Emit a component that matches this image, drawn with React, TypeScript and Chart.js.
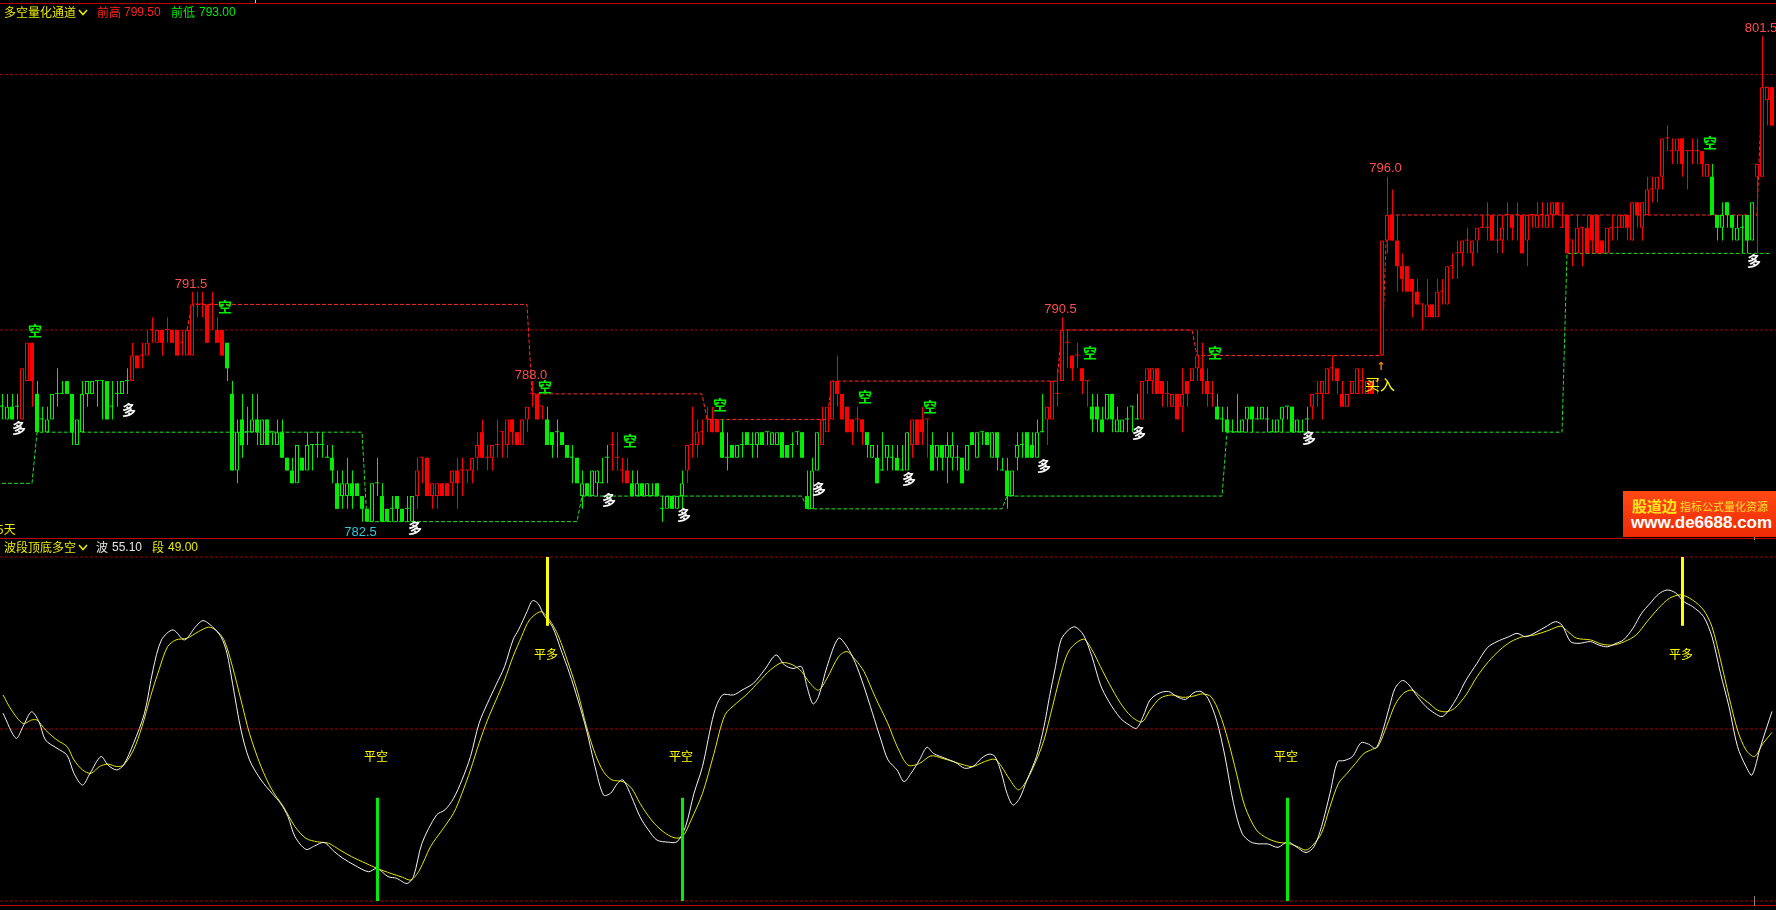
import React, { useEffect, useRef } from "react";
import { Chart, registerables } from "chart.js";
Chart.register(...registerables);

// ---------------- DATA ----------------
const opens = [
  787, 786.5, 787, 787, 786.5, 788, 789.5, 787.5, 786.5, 786,
  786.5, 787.5, 787.5, 788, 787.5, 785.5, 786, 787.5, 787.5, 788,
  788, 788, 787, 787.5, 787.5, 788, 788, 789, 789, 789,
  790, 789.5, 790, 790, 790, 790, 789.5, 789, 789, 791,
  791, 791, 791, 790, 790, 789.5, 787.5, 784.5, 786.5, 786,
  786, 786.5, 785.5, 786.5, 786, 785.5, 786, 785, 784.5, 784,
  785, 784.5, 785.5, 785.5, 785.5, 785, 785, 784, 783.5, 783.5,
  784, 784, 783.5, 783, 782.5, 784, 783.5, 783, 783, 783.5,
  783, 783, 782.5, 783.5, 785, 785, 783.5, 783.5, 784, 784,
  784, 784.5, 784.5, 784.5, 784.5, 785, 786, 785, 785, 785.5,
  786, 785.5, 786.5, 786, 785.5, 786.5, 787.5, 787.5, 787, 786.5,
  786, 786, 786, 785.5, 785, 785, 783.5, 784, 783.5, 784,
  784, 785, 785.5, 785, 784.5, 784.5, 784, 783.5, 784, 783.5,
  783.5, 784, 783, 783, 783.5, 783, 783.5, 784.5, 785.5, 785.5,
  786, 786.5, 786.5, 786.5, 786, 785, 785.5, 785, 785.5, 786,
  785.5, 785.5, 786, 786, 785.5, 785.5, 786, 785.5, 785.5, 786,
  786, 783.5, 783, 784.5, 785.5, 786, 786.5, 788, 787.5, 787,
  786.5, 786.5, 786.5, 786, 785, 785, 784.5, 785, 785, 785,
  784.5, 784.5, 785.5, 786.5, 786.5, 786.5, 785.5, 785, 785.5, 785,
  785, 785, 785, 784.5, 786, 785, 786, 786, 785, 786,
  784.5, 784.5, 783.5, 785, 785.5, 786, 785.5, 785, 786, 786.5,
  786.5, 787.5, 788, 789.5, 789, 789, 788.5, 788, 787, 787,
  786.5, 786.5, 787.5, 786, 786, 786.5, 787, 786.5, 786.5, 788,
  788, 788.5, 788, 787.5, 787, 787.5, 787, 788, 788, 788.5,
  788.5, 788, 787.5, 787, 786.5, 786.5, 786, 786, 786, 786.5,
  787, 786.5, 786.5, 786.5, 786, 786, 786.5, 787, 787, 786,
  786, 786.5, 787, 787.5, 787.5, 787.5, 788.5, 788.5, 787.5, 787,
  787.5, 787.5, 788, 787.5, 788, 788, 789, 793.5, 794.5, 793.5,
  792.5, 792.5, 792, 791.5, 791, 790.5, 791, 790.5, 791.5, 791,
  792.5, 793, 793, 793.5, 793, 793.5, 794, 794, 794.5, 793.5,
  793.5, 794.5, 794.5, 794.5, 794.5, 793.5, 794.5, 794, 794.5, 794,
  794.5, 795, 794, 794.5, 793.5, 793, 794, 794, 794.5, 794.5,
  793.5, 793, 794, 794, 794, 794.5, 793.5, 795, 794, 794.5,
  795.5, 795.5, 796, 797.5, 797, 797, 797.5, 797, 797, 797,
  797, 796, 796, 794.5, 794, 795, 794.5, 793.5, 794, 794.5,
  793.5, 796, 796, 799, 799.5,
];
const highs = [
  787.5, 787.5, 787.5, 787.5, 788.5, 789.5, 789.5, 788, 787, 787,
  787.5, 788.5, 788, 788, 787.5, 786.5, 788, 788, 788, 788,
  788, 788, 788, 788, 788, 788.5, 789.5, 789, 789.5, 790,
  790.5, 790, 790, 790.5, 790, 790, 790, 790, 791.5, 791.5,
  791.5, 791, 791.5, 790.5, 790, 789.5, 788, 786.5, 787.5, 787,
  787.5, 787.5, 786.5, 786.5, 786, 786.5, 786.5, 785, 785, 785.5,
  785, 786, 785.5, 786, 786, 785.5, 785.5, 784.5, 784.5, 785,
  784.5, 784, 783.5, 783, 784, 785, 784, 783, 783.5, 783.5,
  783, 783.5, 783.5, 785, 785, 785, 784, 784, 784, 784,
  784.5, 785, 785, 784.5, 785, 786, 786.5, 785.5, 785.5, 786.5,
  786, 786.5, 786.5, 786, 786.5, 787, 788, 787.5, 787, 787,
  786, 786.5, 786, 785.5, 785.5, 785, 784.5, 784, 784.5, 784.5,
  785, 785.5, 786, 786, 785, 785, 784.5, 784.5, 784, 784,
  784, 784, 783.5, 783.5, 783.5, 783.5, 784.5, 785.5, 787, 786.5,
  786.5, 787, 787, 786.5, 786.5, 786, 785.5, 785.5, 786, 786,
  786, 786, 786, 786, 786, 786, 786, 785.5, 786, 786,
  786, 784.5, 785, 786, 787, 787, 788, 789, 787.5, 787,
  786.5, 787, 786.5, 786, 785.5, 785.5, 786, 785.5, 785.5, 785.5,
  785.5, 786, 786.5, 786.5, 787, 786.5, 786, 785.5, 785.5, 786,
  786, 785.5, 785, 785.5, 786, 786, 786, 786, 786, 786,
  785, 785, 784.5, 786, 786, 786, 786, 786.5, 787.5, 787,
  788, 788.5, 790.5, 790, 789, 789.5, 788.5, 788, 787.5, 787.5,
  787, 787.5, 787.5, 787, 786.5, 787, 787, 787.5, 788, 788.5,
  788.5, 788.5, 788, 788, 787.5, 787.5, 788.5, 788, 788.5, 790,
  789.5, 788.5, 788, 787.5, 787, 787, 786.5, 787.5, 786.5, 787,
  787, 787, 787, 787, 786.5, 786.5, 787, 787, 787, 786.5,
  786.5, 787, 787.5, 788, 788, 788.5, 789, 788.5, 788, 787.5,
  788, 788.5, 788.5, 788, 788, 788, 793.5, 796, 795.5, 794.5,
  793, 792.5, 792, 792, 791, 792, 791, 792, 792, 792.5,
  793, 793.5, 793.5, 794, 793.5, 794, 794.5, 795, 794.5, 794.5,
  794.5, 795, 794.5, 795, 794.5, 794.5, 794.5, 795, 795, 795,
  795, 795, 795, 794.5, 793.5, 794.5, 794, 794.5, 794.5, 794.5,
  793.5, 794, 794.5, 794.5, 794.5, 794.5, 795, 795, 795, 796,
  796, 796, 797.5, 798, 797.5, 797.5, 797.5, 797, 797.5, 797.5,
  797, 796.5, 796.5, 794.5, 795, 795, 794.5, 794.5, 794.5, 794.5,
  795, 796.5, 801.5, 799.5, 799.5,
];
const lows = [
  786.5, 786.5, 786.5, 786.5, 786.5, 788, 787, 786, 786, 786,
  786.5, 787, 787.5, 787.5, 785.5, 785.5, 786, 787, 787.5, 787,
  786.5, 786.5, 786.5, 787, 787.5, 787.5, 788, 788.5, 788.5, 789,
  789.5, 789.5, 789, 789.5, 789.5, 789, 789, 789, 789, 790.5,
  790.5, 789.5, 790, 789.5, 789, 788, 784.5, 784, 785, 785.5,
  786, 785.5, 785.5, 785.5, 785.5, 785.5, 785, 784.5, 784, 784,
  784.5, 784.5, 784.5, 785, 785, 785, 784, 783, 783, 783,
  783, 783.5, 782.5, 782.5, 782.5, 783.5, 782.5, 782.5, 782.5, 782.5,
  782.5, 782.5, 782.5, 783, 784, 783.5, 783, 783, 783.5, 783.5,
  783.5, 783, 783.5, 784, 784, 784.5, 785, 784.5, 784.5, 785,
  785, 785, 785.5, 785.5, 785.5, 786, 787, 786.5, 786.5, 785.5,
  785, 785, 785.5, 785, 784, 784, 783, 783.5, 783.5, 783.5,
  784, 784, 784.5, 784.5, 784, 784, 783.5, 783.5, 783.5, 783.5,
  783.5, 783.5, 782.5, 783, 783, 783, 783, 784, 785, 785,
  785.5, 786, 786, 786, 785, 784.5, 785, 785, 785, 785.5,
  785, 785, 785.5, 785.5, 785.5, 785.5, 785, 785, 785, 785.5,
  785, 783, 783, 784.5, 785.5, 786, 786.5, 787, 786.5, 786,
  785.5, 786, 785.5, 785, 785, 784, 784.5, 784.5, 784.5, 784.5,
  784.5, 784.5, 785, 785.5, 785.5, 785, 784.5, 784.5, 784.5, 784,
  784.5, 784.5, 784, 784.5, 785.5, 785, 785.5, 785.5, 785, 784.5,
  784.5, 783, 783.5, 784.5, 785, 785, 785, 785, 786, 785.5,
  786.5, 787, 788, 788.5, 788, 788.5, 787.5, 787, 786, 786,
  786, 786.5, 786, 786, 786, 786, 786, 786.5, 786.5, 787.5,
  787.5, 787.5, 787, 787, 787, 786.5, 786, 787, 788, 788,
  787.5, 787, 787, 786.5, 786, 786, 786, 786, 786, 786,
  786, 786.5, 786.5, 786, 786, 786, 786, 786.5, 786, 786,
  786, 786, 786.5, 787, 786.5, 787.5, 788, 787.5, 787, 787,
  787.5, 787.5, 787.5, 787.5, 787.5, 787.5, 789, 793, 793.5, 791.5,
  791.5, 791.5, 790.5, 791, 790, 790.5, 790.5, 790.5, 791, 791,
  792, 792, 792.5, 793, 792.5, 793, 794, 793.5, 793.5, 793,
  793, 793.5, 793.5, 793.5, 793, 792.5, 794, 794, 794, 794,
  794, 794.5, 794, 793, 792.5, 793, 792.5, 793, 793, 793,
  793, 793, 793.5, 793.5, 794, 793.5, 793.5, 794, 793.5, 794.5,
  795, 795, 795.5, 797, 796.5, 796.5, 796, 795.5, 796.5, 796.5,
  796, 796, 794.5, 793.5, 793.5, 794, 793.5, 793.5, 793, 793,
  793.5, 793, 796, 798, 798,
];
const closes = [
  787, 787, 786.5, 787, 788.5, 789.5, 788, 786, 786.5, 786.5,
  787.5, 787.5, 787.5, 787.5, 786, 786.5, 787.5, 788, 788, 788,
  788, 786.5, 787, 787.5, 788, 788, 789, 788.5, 789, 789.5,
  790, 790, 789.5, 790, 789.5, 789, 789.5, 790, 791, 791,
  791, 789.5, 791, 789.5, 789, 788.5, 784.5, 786, 785.5, 786,
  786.5, 786, 786.5, 785.5, 786, 786, 785, 784.5, 784, 785.5,
  784.5, 785.5, 785.5, 785.5, 785.5, 785, 784.5, 783, 784, 784,
  783.5, 783.5, 783, 782.5, 784, 784, 782.5, 782.5, 783, 783,
  782.5, 783, 783.5, 784.5, 785, 783.5, 784, 784, 783.5, 783.5,
  784.5, 784, 784.5, 784.5, 785, 785.5, 785, 785, 785.5, 785.5,
  786, 786.5, 786, 785.5, 786.5, 787, 787.5, 786.5, 787, 785.5,
  785.5, 786, 785.5, 785, 785, 784, 784, 783.5, 784.5, 784.5,
  784, 785, 785.5, 785, 784.5, 784, 783.5, 784, 783.5, 784,
  783.5, 783.5, 783, 783.5, 783, 783.5, 784, 785.5, 785.5, 786,
  786, 786.5, 786, 786, 785, 785, 785, 785.5, 785.5, 785.5,
  785.5, 786, 785.5, 786, 786, 786, 785, 785, 785.5, 786,
  785, 783, 784.5, 786, 786.5, 787, 788, 787.5, 786.5, 786,
  786, 786.5, 786, 785.5, 785.5, 784, 784.5, 785.5, 785, 784.5,
  784.5, 786, 786.5, 785.5, 786, 786.5, 784.5, 785.5, 785, 785.5,
  785.5, 785, 784, 785.5, 785.5, 786, 786, 785.5, 786, 785,
  784.5, 783.5, 784.5, 785.5, 785.5, 785, 785, 786, 786, 787,
  788, 787.5, 790, 789.5, 788.5, 789, 788, 788, 786.5, 786.5,
  786, 787.5, 786.5, 786.5, 786.5, 786.5, 787, 786.5, 788, 788.5,
  788.5, 787.5, 787.5, 787.5, 787.5, 786.5, 787.5, 787.5, 788.5, 789,
  788, 787.5, 787.5, 786.5, 786.5, 786, 786, 786, 786.5, 787,
  786.5, 786.5, 787, 786.5, 786, 786.5, 787, 787, 786, 786.5,
  786, 786.5, 787.5, 787.5, 788, 788.5, 788.5, 788, 787, 787.5,
  788, 788.5, 788, 788, 787.5, 788, 793.5, 794.5, 793.5, 792.5,
  792, 791.5, 791.5, 791, 791, 791, 790.5, 791.5, 791.5, 792.5,
  792.5, 793, 793.5, 793.5, 793.5, 794, 794, 794, 793.5, 793.5,
  794, 794.5, 794, 794.5, 793, 794.5, 794.5, 794.5, 794.5, 794.5,
  795, 794.5, 794, 793, 793.5, 794, 794, 793, 793.5, 793,
  793, 794, 794, 794, 794.5, 794, 795, 794.5, 795, 795.5,
  795.5, 796, 797.5, 797.5, 797, 797.5, 796.5, 797, 797, 797,
  796.5, 796.5, 794.5, 794, 794.5, 794.5, 794, 794, 794, 793.5,
  795, 796.5, 799.5, 799.5, 798,
];
// bar index ranges drawn in the red (long) regime; others are green
const redRanges = [[4, 6], [26, 44], [83, 108], [122, 125], [137, 143], [164, 172], [182, 185], [209, 217], [228, 242], [262, 341], [351, 354]];
// channel levels: [fromBar, toBar, price]
const upperSteps = [[37, 37, 790], [38, 105, 791], [106, 140, 787.5], [141, 165, 786.5], [166, 211, 788], [212, 238, 790], [239, 276, 789], [277, 351, 794.5], [352, 354, 799.5]];
const lowerSteps = [[0, 6, 784], [7, 72, 786], [73, 115, 782.5], [116, 160, 783.5], [161, 200, 783], [201, 244, 783.5], [245, 312, 786], [313, 354, 793]];
const priceGrid = [790, 800];

// oscillator (bar index, value)
const waveK = [0.2, 2.8, 4.2, 5.9, 7.4, 8.7, 11.0, 13.0, 14.4, 16.1, 17.6, 19.8, 21.2, 22.9, 24.3, 26.3, 28.5, 30.2, 31.9, 34.2, 36.5, 38.7, 40.2, 42.1, 43.8, 45.0, 46.1, 47.8, 49.5, 51.8, 54.0, 55.7, 57.2, 58.6, 60.8, 62.5, 64.4, 66.5, 68.2, 70.4, 73.3, 75.0, 77.2, 78.9, 81.0, 82.3, 84.0, 86.9, 88.6, 90.3, 92.0, 93.7, 95.4, 97.1, 98.8, 100.5, 102.2, 103.3, 105.0, 106.1, 107.2, 108.4, 110.1, 111.8, 113.5, 115.2, 116.9, 118.6, 120.3, 121.7, 123.1, 124.2, 125.9, 127.6, 129.3, 131.0, 133.3, 135.0, 136.7, 138.4, 140.1, 142.4, 144.1, 146.3, 148.0, 150.3, 152.5, 154.8, 156.5, 158.2, 159.9, 161.0, 162.2, 163.3, 165.0, 167.3, 169.0, 170.7, 172.4, 174.1, 175.8, 177.2, 179.0, 180.4, 181.8, 183.5, 185.0, 186.3, 188.6, 190.8, 192.5, 194.2, 195.9, 197.4, 198.6, 199.9, 201.0, 202.2, 203.5, 205.0, 206.9, 208.4, 209.5, 210.7, 211.8, 213.3, 214.6, 216.3, 218.0, 219.7, 221.4, 223.7, 225.4, 226.9, 228.2, 229.6, 231.4, 233.3, 235.0, 236.7, 238.4, 239.8, 241.2, 242.9, 244.6, 246.3, 248.0, 249.7, 251.4, 253.1, 255.2, 257.1, 258.8, 260.8, 262.4, 263.9, 265.6, 267.1, 268.4, 270.1, 271.8, 273.3, 274.7, 275.8, 277.5, 278.6, 280.1, 281.4, 283.1, 284.8, 286.5, 288.0, 289.4, 291.1, 292.8, 295.0, 297.1, 299.0, 301.3, 303.0, 304.7, 306.4, 308.6, 310.7, 312.0, 313.7, 315.4, 317.7, 319.4, 321.1, 322.8, 324.3, 326.2, 327.9, 329.6, 331.3, 333.0, 334.7, 336.4, 338.1, 340.3, 342.0, 343.7, 345.4, 347.1, 348.8, 350.0, 351.7, 354.0];
const waveV = [54.6, 47.3, 50.7, 55.0, 52.1, 46.8, 44.4, 42.4, 37.1, 33.7, 37.1, 42.0, 39.5, 38.1, 39.5, 45.8, 54.6, 67.2, 75.9, 78.8, 75.9, 79.7, 81.5, 79.7, 76.8, 72.0, 63.3, 49.7, 41.0, 35.2, 31.3, 28.4, 24.5, 18.7, 15.0, 16.0, 17.0, 14.3, 12.4, 10.5, 8.5, 9.5, 7.1, 6.6, 5.1, 7.1, 16.8, 25.0, 26.5, 29.8, 35.2, 42.0, 51.6, 57.5, 62.8, 68.1, 75.9, 78.8, 84.1, 87.3, 86.5, 83.1, 79.7, 73.0, 66.2, 58.4, 49.7, 39.1, 30.8, 31.3, 34.2, 35.2, 30.3, 24.5, 20.6, 17.7, 17.1, 17.2, 21.6, 31.3, 39.1, 54.6, 59.9, 59.9, 61.3, 63.3, 67.2, 71.5, 68.6, 67.6, 68.1, 62.3, 57.3, 59.4, 68.1, 76.4, 73.9, 69.1, 62.3, 54.6, 46.8, 41.0, 38.1, 34.7, 37.1, 41.0, 44.7, 42.9, 41.5, 40.2, 38.6, 39.1, 41.5, 42.7, 42.0, 37.1, 31.3, 27.9, 29.8, 35.2, 42.0, 50.7, 59.4, 68.1, 75.9, 78.8, 79.7, 77.3, 71.0, 62.8, 57.9, 53.1, 51.2, 50.2, 53.6, 58.4, 60.4, 60.9, 59.4, 58.6, 60.6, 60.9, 58.9, 52.6, 42.0, 28.4, 19.7, 17.2, 16.6, 16.6, 15.6, 17.2, 15.8, 14.1, 15.8, 21.6, 31.3, 40.5, 40.8, 42.0, 46.0, 45.6, 44.4, 47.8, 56.5, 61.8, 64.1, 62.8, 59.4, 56.5, 54.6, 53.6, 55.5, 59.4, 64.2, 69.1, 73.7, 75.4, 76.8, 77.8, 76.8, 77.8, 79.6, 81.2, 80.2, 75.4, 74.9, 75.4, 74.4, 73.9, 74.9, 75.9, 79.3, 83.6, 86.5, 89.2, 90.4, 89.6, 87.0, 85.6, 82.7, 76.8, 66.2, 56.5, 44.9, 39.1, 36.6, 44.9, 55.1];
const bandK = [0.2, 1.9, 4.2, 5.9, 7.0, 8.7, 11.0, 13.0, 14.4, 16.1, 17.8, 19.5, 21.2, 22.9, 24.3, 26.3, 28.0, 29.7, 31.4, 33.1, 34.8, 37.0, 39.3, 41.3, 42.7, 44.4, 46.1, 47.8, 49.5, 51.8, 54.0, 56.3, 58.6, 60.8, 63.1, 65.3, 67.6, 69.9, 72.1, 75.0, 77.8, 80.1, 81.8, 83.5, 85.7, 88.0, 90.3, 92.0, 93.7, 95.4, 97.1, 98.8, 100.5, 102.2, 103.9, 105.5, 107.8, 109.5, 111.2, 113.5, 115.2, 116.9, 118.6, 120.3, 122.0, 124.2, 125.9, 127.6, 129.9, 132.2, 134.4, 136.1, 137.8, 140.1, 142.4, 144.6, 146.9, 149.2, 151.4, 153.7, 156.0, 158.2, 159.9, 161.6, 163.3, 165.0, 167.3, 169.0, 170.7, 172.4, 174.6, 177.2, 179.0, 181.2, 183.5, 185.8, 188.0, 190.3, 192.5, 194.2, 196.5, 198.6, 199.9, 201.6, 203.3, 205.0, 206.9, 208.4, 210.1, 211.8, 213.5, 216.3, 218.0, 219.7, 221.4, 223.7, 225.9, 228.0, 229.6, 231.6, 233.9, 236.2, 238.4, 240.1, 241.8, 243.5, 245.2, 246.9, 248.6, 250.9, 253.1, 255.4, 257.1, 258.8, 260.8, 262.2, 263.9, 265.6, 267.3, 269.0, 270.7, 272.4, 274.1, 275.2, 276.9, 278.6, 280.3, 282.0, 283.7, 285.4, 287.1, 288.8, 290.5, 292.8, 295.0, 297.3, 299.6, 301.8, 304.1, 306.4, 309.2, 311.8, 313.2, 314.9, 317.7, 319.9, 322.2, 324.5, 326.8, 329.0, 331.3, 333.5, 335.8, 338.1, 340.3, 342.0, 343.7, 345.4, 347.1, 348.8, 350.5, 352.2, 354.0];
const bandV = [59.9, 55.5, 51.6, 52.6, 52.6, 49.7, 46.8, 44.9, 41.0, 38.1, 37.1, 39.1, 39.8, 39.1, 39.5, 43.9, 50.7, 59.4, 67.2, 73.9, 75.9, 76.4, 78.3, 79.6, 78.8, 75.9, 68.1, 58.4, 48.7, 39.1, 32.3, 27.4, 21.6, 18.2, 17.2, 16.8, 14.8, 12.9, 11.4, 9.5, 8.0, 6.9, 6.1, 9.0, 15.8, 20.6, 25.5, 31.3, 38.1, 45.8, 52.6, 58.4, 64.2, 71.0, 76.8, 81.7, 84.1, 81.7, 77.3, 68.1, 60.4, 50.7, 42.9, 37.6, 35.2, 34.7, 32.8, 28.4, 23.5, 20.2, 18.4, 18.7, 23.5, 31.3, 42.9, 54.1, 57.5, 60.4, 63.8, 67.2, 69.3, 68.6, 66.7, 63.3, 61.3, 64.7, 71.0, 72.5, 70.1, 66.7, 59.4, 51.5, 45.0, 39.5, 40.0, 42.2, 41.5, 40.5, 39.5, 39.1, 40.5, 41.2, 39.1, 35.2, 32.3, 35.2, 41.0, 46.8, 56.5, 66.2, 73.0, 76.1, 73.0, 68.1, 63.3, 57.5, 53.6, 52.1, 55.5, 58.9, 59.9, 59.2, 59.6, 60.2, 59.4, 54.6, 46.8, 37.1, 27.4, 20.6, 18.2, 17.0, 16.8, 16.0, 14.8, 16.3, 19.7, 27.4, 34.2, 37.1, 40.0, 42.9, 44.1, 44.9, 50.7, 57.0, 60.4, 61.3, 59.4, 57.5, 55.5, 55.0, 56.0, 59.9, 65.2, 69.6, 73.0, 75.4, 76.8, 77.3, 78.6, 79.9, 78.3, 76.4, 75.9, 74.7, 74.4, 75.4, 77.3, 81.2, 85.1, 88.0, 89.0, 87.5, 84.6, 79.7, 70.1, 59.4, 49.7, 43.9, 42.0, 45.8, 49.0];
const exitShortBars = [75, 136, 257]; // 平空
const exitLongBars = [109, 336]; // 平多
const oscGrid = [0, 50, 100];

// ---------------- STYLE ----------------
const W = 1776;
const TOP_H = 538;
const BOT_H = 372;
const RED = "#ff0000";
const GREEN = "#00ee00";
const YEL = "#e8e800";
const CJK = '"Noto Sans CJK SC", sans-serif';
const NUM = '"Liberation Sans", Arial, sans-serif';

const isRed = (k: number) => redRanges.some(([a, b]) => k >= a && k <= b);
function expandSteps(steps: number[][]) {
  const arr: (number | null)[] = opens.map(() => null);
  steps.forEach(([a, b, v]) => { for (let k = a; k <= b; k++) arr[k] = v; });
  return arr.map((v, k) => ({ x: k, y: v }));
}

type Mark = { k: number; v: number; text: string; color: string; font: string };
const kongMarks = [[6.6, 789.96], [44.6, 790.9], [108.6, 787.77], [125.6, 785.66], [143.6, 787.06], [172.6, 787.38], [185.6, 786.99], [217.6, 789.1], [242.6, 789.1], [341.6, 797.32]];
const duoMarks = [[3.4, 786.16], [25.4, 786.87], [82.6, 782.25], [121.4, 783.35], [136.4, 782.76], [163.4, 783.78], [181.4, 784.17], [208.4, 784.68], [227.4, 785.97], [261.4, 785.77], [350.4, 792.7]];
const priceMarks = [
  { k: 37.8, v: 791.8, text: "791.5" },
  { k: 105.8, v: 788.24, text: "788.0" },
  { k: 211.7, v: 790.82, text: "790.5" },
  { k: 276.7, v: 796.34, text: "796.0" },
  { k: 351.8, v: 801.82, text: "801.5" },
];

function marksPlugin(items: Mark[]) {
  return {
    id: "marks",
    afterDatasetsDraw(chart: any) {
      const ctx = chart.ctx;
      const xs = chart.scales.x;
      const ys = chart.scales.y;
      ctx.save();
      ctx.textAlign = "center";
      ctx.textBaseline = "middle";
      for (const m of items) {
        ctx.font = m.font;
        ctx.fillStyle = m.color;
        ctx.fillText(m.text, xs.getPixelForValue(m.k), ys.getPixelForValue(m.v));
      }
      ctx.restore();
    },
  };
}

const xMain: any = { type: "linear", min: -0.4, max: 354.8, display: false, bounds: "data", offset: false, grid: { offset: false } };
const xWick: any = { type: "linear", min: -0.5, max: 354.7, display: false, bounds: "data", offset: false, grid: { offset: false } };

function hline(v: number, color: string, dash: number[]) {
  return {
    type: "line", xAxisID: "x", data: [{ x: -0.4, y: v }, { x: 354.8, y: v }],
    borderColor: color, borderWidth: 1, borderDash: dash, pointRadius: 0, order: 9,
  };
}

export default function App() {
  const topRef = useRef<HTMLCanvasElement>(null);
  const botRef = useRef<HTMLCanvasElement>(null);

  useEffect(() => {
    const colors = opens.map((_, k) => (isRed(k) ? RED : GREEN));
    const up = opens.map((o, k) => closes[k] > o);
    const topMarks: Mark[] = [];
    kongMarks.forEach(([k, v]) => topMarks.push({ k, v, text: "空", color: GREEN, font: `bold 14px ${CJK}` }));
    duoMarks.forEach(([k, v]) => topMarks.push({ k, v, text: "多", color: "#ffffff", font: `bold 14px ${CJK}` }));
    priceMarks.forEach((m) => topMarks.push({ ...m, color: "#ff4d4d", font: `13px ${NUM}` }));
    topMarks.push({ k: 71.7, v: 782.09, text: "782.5", color: "#33c8d8", font: `13px ${NUM}` });
    topMarks.push({ k: 275.6, v: 787.89, text: "买入", color: "#ffff00", font: `15px ${CJK}` });
    topMarks.push({ k: 275.8, v: 788.55, text: "↑", color: "#ff8c00", font: `bold 11px "DejaVu Sans"` });

    const top = new Chart(topRef.current!, {
      type: "bar",
      data: {
        datasets: [
          {
            type: "bar", xAxisID: "x", order: 0,
            data: opens.map((o, k) => ({ x: k, y: [o, closes[k]] })) as any,
            backgroundColor: opens.map((_, k) => (up[k] ? "#000000" : colors[k])),
            borderColor: colors, borderWidth: up.map((u) => (u ? 1 : 0)),
            borderSkipped: false, barThickness: 4, grouped: false, minBarLength: 1, inflateAmount: 0,
          } as any,
          {
            type: "bar", xAxisID: "xw", order: 1,
            data: highs.map((h, k) => ({ x: k, y: [lows[k], h] })) as any,
            backgroundColor: colors, borderWidth: 0, borderSkipped: false,
            barThickness: 1, grouped: false, minBarLength: 1, inflateAmount: 0,
          } as any,
          {
            type: "line", xAxisID: "x", order: 3, data: expandSteps(upperSteps) as any,
            borderColor: "#ff2a2a", borderWidth: 1, borderDash: [4, 2], pointRadius: 0, spanGaps: false,
          } as any,
          {
            type: "line", xAxisID: "x", order: 3, data: expandSteps(lowerSteps) as any,
            borderColor: "#22e022", borderWidth: 1, borderDash: [4, 2], pointRadius: 0, spanGaps: false,
          } as any,
          ...priceGrid.map((p) => hline(p, "#a00000", [3, 2]) as any),
        ],
      },
      options: {
        responsive: false, animation: false, events: [],
        layout: { padding: 0, autoPadding: false } as any,
        plugins: { legend: { display: false }, tooltip: { enabled: false } },
        scales: {
          x: xMain, xw: xWick,
          y: { type: "linear", min: 781.8591, max: 802.9159, display: false, bounds: "data" } as any,
        },
      },
      plugins: [marksPlugin(topMarks)],
    });

    const botMarks: Mark[] = [];
    exitShortBars.forEach((k) => botMarks.push({ k: k - 0.2, v: 41.9, text: "平空", color: "#ffff00", font: `12px ${CJK}` }));
    exitLongBars.forEach((k) => botMarks.push({ k: k - 0.2, v: 71.8, text: "平多", color: "#ffff00", font: `12px ${CJK}` }));

    const bot = new Chart(botRef.current!, {
      type: "bar",
      data: {
        datasets: [
          ...oscGrid.map((v) => hline(v, "#a00000", [3, 2]) as any),
          {
            type: "line", xAxisID: "x", order: 2, data: bandK.map((k, i) => ({ x: k, y: bandV[i] })) as any,
            borderColor: "#e6e600", borderWidth: 1, pointRadius: 0, tension: 0.3,
          } as any,
          {
            type: "line", xAxisID: "x", order: 1, data: waveK.map((k, i) => ({ x: k, y: waveV[i] })) as any,
            borderColor: "#f2f2f2", borderWidth: 1, pointRadius: 0, tension: 0.3,
          } as any,
          {
            type: "bar", xAxisID: "xw", order: 0,
            data: exitShortBars.map((k) => ({ x: k, y: [0, 30] })) as any,
            backgroundColor: "#00ee00", barThickness: 3, grouped: false, inflateAmount: 0,
          } as any,
          {
            type: "bar", xAxisID: "xw", order: 0,
            data: exitLongBars.map((k) => ({ x: k, y: [80, 100] })) as any,
            backgroundColor: "#ffff00", barThickness: 3, grouped: false, inflateAmount: 0,
          } as any,
        ],
      },
      options: {
        responsive: false, animation: false, events: [],
        layout: { padding: 0, autoPadding: false } as any,
        plugins: { legend: { display: false }, tooltip: { enabled: false } },
        scales: {
          x: xMain, xw: xWick,
          y: { type: "linear", min: -2.616, max: 105.523, display: false, bounds: "data" } as any,
        },
      },
      plugins: [marksPlugin(botMarks)],
    });

    return () => { top.destroy(); bot.destroy(); };
  }, []);

  const txt = (left: number, top: number, text: string, color: string, font: string, size = 12): any => (
    <span style={{ position: "absolute", left, top, color, fontFamily: font, fontSize: size, lineHeight: `${size}px`, whiteSpace: "nowrap" }}>{text}</span>
  );
  const chevron = (left: number, top: number) => (
    <svg style={{ position: "absolute", left, top }} width={10} height={7}>
      <polyline points="1,1 5,5.5 9,1" fill="none" stroke={YEL} strokeWidth={1.6} />
    </svg>
  );

  return (
    <div style={{ position: "fixed", left: 0, top: 0, width: W, height: 910, background: "#000", overflow: "hidden" }}>
      <canvas ref={topRef} width={W} height={TOP_H} style={{ position: "absolute", left: 0, top: 0, display: "block" }} />
      <canvas ref={botRef} width={W} height={BOT_H} style={{ position: "absolute", left: 0, top: TOP_H, display: "block" }} />
      <div style={{ position: "absolute", left: 0, top: 3, width: W, height: 1, background: "#c00000" }} />
      <div style={{ position: "absolute", left: 0, top: 538, width: W, height: 1, background: "#c00000" }} />
      <div style={{ position: "absolute", left: 0, top: 905, width: W, height: 1, background: "#c00000" }} />
      <div style={{ position: "absolute", left: 255, top: 0, width: 1, height: 3, background: "#cccccc" }} />
      <div style={{ position: "absolute", left: 1754, top: 536, width: 1, height: 4, background: "#888" }} />
      <div style={{ position: "absolute", left: 1754, top: 896, width: 1, height: 10, background: "#888" }} />

      {txt(4, 6, "多空量化通道", YEL, CJK)}
      {chevron(78, 9)}
      {txt(97, 6, "前高", "#ff2020", CJK)}
      {txt(124, 6, "799.50", "#ff2020", NUM)}
      {txt(171, 6, "前低", GREEN, CJK)}
      {txt(199, 6, "793.00", GREEN, NUM)}

      {txt(-3, 523, "5天", YEL, CJK)}

      {txt(4, 541, "波段顶底多空", YEL, CJK)}
      {chevron(78, 544)}
      {txt(96, 541, "波", "#e6e6e6", CJK)}
      {txt(112, 541, "55.10", "#e6e6e6", NUM)}
      {txt(152, 541, "段", YEL, CJK)}
      {txt(168, 541, "49.00", YEL, NUM)}

      <div style={{ position: "absolute", left: 1623, top: 491, width: 153, height: 46, background: "linear-gradient(180deg,#ff4a14 0%,#ee2a06 100%)" }}>
        <span style={{ position: "absolute", left: 9, top: 7, fontFamily: CJK, fontWeight: 700, fontSize: 15, lineHeight: "15px", color: "#ffe61e", whiteSpace: "nowrap" }}>股道边</span>
        <span style={{ position: "absolute", left: 57, top: 10, fontFamily: CJK, fontSize: 11, lineHeight: "11px", color: "#ffdd33", whiteSpace: "nowrap" }}>指标公式量化资源</span>
        <span style={{ position: "absolute", left: 8, top: 23, fontFamily: NUM, fontWeight: 700, fontSize: 17, lineHeight: "17px", color: "#ffffff", whiteSpace: "nowrap" }}>www.de6688.com</span>
      </div>
    </div>
  );
}
